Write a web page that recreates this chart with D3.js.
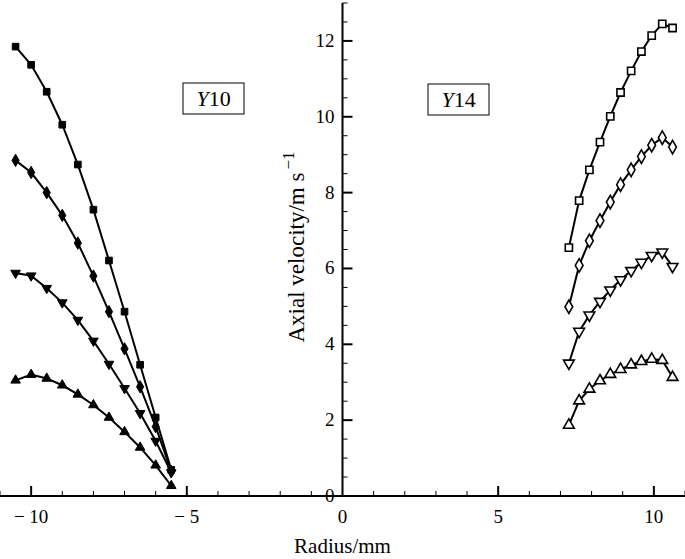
<!DOCTYPE html>
<html>
<head>
<meta charset="utf-8">
<script src="https://cdn.jsdelivr.net/npm/d3@7"></script>
<style>
  body { margin: 0; background: #fff; }
  svg { display: block; font-family: "Liberation Serif", "Times New Roman", serif; }
</style>
</head>
<body>
<div id="chart"></div>
<script>
// radius positions (mm)
var xLeft = [-10.5, -10, -9.5, -9, -8.5, -8, -7.5, -7, -6.5, -6, -5.5];
var xRight = [7.27, 7.6, 7.93, 8.27, 8.6, 8.93, 9.27, 9.6, 9.93, 10.27, 10.6];

// Y10 (left, filled markers)
var y10Square = [11.85, 11.37, 10.66, 9.79, 8.74, 7.55, 6.21, 4.86, 3.46, 2.07, 0.69];
var y10Diamond = [8.85, 8.53, 8.0, 7.4, 6.67, 5.8, 4.86, 3.88, 2.88, 1.83, 0.65];
var y10Down = [5.88, 5.81, 5.48, 5.1, 4.64, 4.09, 3.48, 2.84, 2.18, 1.45, 0.62];
var y10Up = [3.05, 3.2, 3.1, 2.92, 2.68, 2.4, 2.07, 1.69, 1.28, 0.81, 0.27];

// Y14 (right, open markers)
var y14Square = [6.55, 7.79, 8.6, 9.33, 10.01, 10.64, 11.21, 11.72, 12.14, 12.45, 12.34];
var y14Diamond = [4.99, 6.08, 6.73, 7.26, 7.75, 8.21, 8.6, 8.95, 9.25, 9.45, 9.2];
var y14Down = [3.5, 4.34, 4.77, 5.13, 5.43, 5.7, 5.94, 6.16, 6.34, 6.43, 6.05];
var y14Up = [1.87, 2.51, 2.82, 3.04, 3.21, 3.34, 3.46, 3.55, 3.61, 3.58, 3.13];

var xTicks = [-10, -5, 0, 5, 10];
var yTicks = [0, 2, 4, 6, 8, 10, 12];

var series = [
  { x: xLeft, y: y10Square, sym: d3.symbolSquare, fill: "#000", size: 44 },
  { x: xLeft, y: y10Diamond, sym: d3.symbolDiamond, fill: "#000", size: 44 },
  { x: xLeft, y: y10Down, sym: "down", fill: "#000", size: 40 },
  { x: xLeft, y: y10Up, sym: d3.symbolTriangle, fill: "#000", size: 40 },
  { x: xRight, y: y14Square, sym: d3.symbolSquare, fill: "#fff", size: 52 },
  { x: xRight, y: y14Diamond, sym: d3.symbolDiamond, fill: "#fff", size: 52 },
  { x: xRight, y: y14Down, sym: "down", fill: "#fff", size: 50 },
  { x: xRight, y: y14Up, sym: d3.symbolTriangle, fill: "#fff", size: 50 }
];

var width = 685, height = 559;

var svg = d3.select("#chart").append("svg")
    .attr("width", width)
    .attr("height", height);

var x = d3.scaleLinear().domain([-11, 11]).range([0, 685]);
var y = d3.scaleLinear().domain([0, 13]).range([496, 3]);

// axes
var gx = svg.append("g").attr("transform", "translate(0," + y(0) + ")");
gx.append("line").attr("x1", 0).attr("x2", width).attr("stroke", "#000").attr("stroke-width", 2);
gx.selectAll("line.minor")
    .data(d3.range(-11, 12, 1).filter(function (d) { return d % 5 !== 0; }))
    .enter().append("line")
    .attr("x1", function (d) { return x(d); }).attr("x2", function (d) { return x(d); })
    .attr("y1", 0).attr("y2", -5)
    .attr("stroke", "#000").attr("stroke-width", 1);
gx.selectAll("line.major")
    .data(xTicks.filter(function (d) { return d !== 0; }))
    .enter().append("line")
    .attr("x1", function (d) { return x(d); }).attr("x2", function (d) { return x(d); })
    .attr("y1", 0).attr("y2", -10)
    .attr("stroke", "#000").attr("stroke-width", 2);
gx.selectAll("text")
    .data(xTicks)
    .enter().append("text")
    .attr("x", function (d) { return x(d); })
    .attr("y", 27)
    .attr("text-anchor", "middle")
    .attr("font-size", 19)
    .text(function (d) { return d < 0 ? "\u2212 " + Math.abs(d) : d; });

var gy = svg.append("g").attr("transform", "translate(" + x(0) + ",0)");
gy.append("line").attr("y1", y(0)).attr("y2", y(13)).attr("stroke", "#000").attr("stroke-width", 2);
gy.selectAll("line.minor")
    .data(d3.range(1, 27).map(function (i) { return i * 0.5; }).filter(function (d) { return d % 2 !== 0; }))
    .enter().append("line")
    .attr("y1", function (d) { return y(d); }).attr("y2", function (d) { return y(d); })
    .attr("x1", 0).attr("x2", 5)
    .attr("stroke", "#000").attr("stroke-width", 1);
gy.selectAll("line.major")
    .data(yTicks.filter(function (d) { return d !== 0; }))
    .enter().append("line")
    .attr("y1", function (d) { return y(d); }).attr("y2", function (d) { return y(d); })
    .attr("x1", 0).attr("x2", 10)
    .attr("stroke", "#000").attr("stroke-width", 2);
gy.selectAll("text")
    .data(yTicks)
    .enter().append("text")
    .attr("x", -8)
    .attr("y", function (d) { return y(d) + 6; })
    .attr("text-anchor", "end")
    .attr("font-size", 19)
    .text(function (d) { return d; });

// axis titles
svg.append("text")
    .attr("x", x(0)).attr("y", 553)
    .attr("text-anchor", "middle")
    .attr("font-size", 21)
    .text("Radius/mm");

var yl = svg.append("text")
    .attr("transform", "translate(304,247) rotate(-90)")
    .attr("text-anchor", "middle")
    .attr("font-size", 23);
yl.append("tspan").text("Axial velocity/m s");
yl.append("tspan").attr("dx", 3).attr("dy", -10).attr("font-size", 17).text("\u22121");

// series
var line = d3.line();
series.forEach(function (s) {
  var pts = s.x.map(function (v, i) { return [x(v), y(s.y[i])]; });
  svg.append("path")
      .attr("d", line(pts))
      .attr("fill", "none")
      .attr("stroke", "#000")
      .attr("stroke-width", 2);
  var symType = s.sym === "down" ? d3.symbolTriangle : s.sym;
  var path = d3.symbol().type(symType).size(s.size)();
  svg.selectAll(null)
      .data(pts)
      .enter().append("path")
      .attr("d", path)
      .attr("transform", function (d) {
        return "translate(" + d[0] + "," + d[1] + ")" + (s.sym === "down" ? " rotate(180)" : "");
      })
      .attr("fill", s.fill)
      .attr("stroke", "#000")
      .attr("stroke-width", s.fill === "#fff" ? 1.6 : 1);
});

// labels in boxes
var boxes = [{ x: 183, y: 83, label: "10" }, { x: 428, y: 84, label: "14" }];
boxes.forEach(function (b) {
  svg.append("rect")
      .attr("x", b.x).attr("y", b.y)
      .attr("width", 61).attr("height", 31)
      .attr("fill", "#fff").attr("stroke", "#000").attr("stroke-width", 1);
  var t = svg.append("text")
      .attr("x", b.x + 30.5).attr("y", b.y + 23)
      .attr("text-anchor", "middle")
      .attr("font-size", 22);
  t.append("tspan").attr("font-style", "italic").text("Y");
  t.append("tspan").text(b.label);
});
</script>
</body>
</html>
